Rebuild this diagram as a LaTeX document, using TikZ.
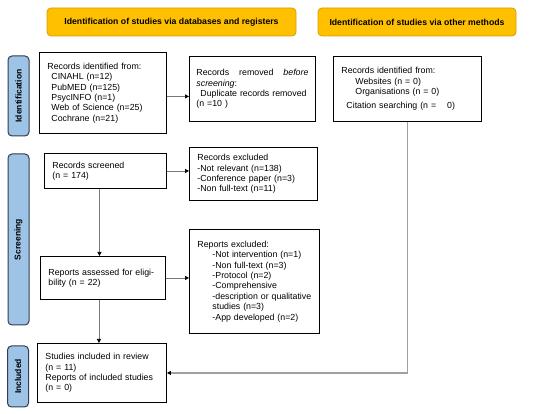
\documentclass[tikz,border=0pt]{standalone}
\usepackage{fontspec}
\setmainfont{Liberation Sans}
\usetikzlibrary{arrows.meta,positioning}
\definecolor{prgold}{RGB}{255,192,0}
\definecolor{prgoldline}{RGB}{214,160,0}
\definecolor{prblue}{RGB}{157,195,230}
\definecolor{prblueline}{RGB}{50,60,75}
\definecolor{prgray}{RGB}{120,120,120}
\newcommand{\ind}{\hspace*{15pt}}

\begin{document}
\begin{tikzpicture}[x=1pt,y=-1pt,
    box/.style={draw, line width=0.9pt, anchor=north west, inner xsep=8pt, inner ysep=2pt, align=left, font=\fontsize{8.8}{10.4}\selectfont},
    header/.style={draw=prgoldline, fill=prgold, rounded corners=4pt, line width=0.8pt, minimum height=28pt, font=\fontsize{8.7}{10}\selectfont\bfseries},
    phase/.style={draw=prblueline, fill=prblue, rounded corners=4pt, line width=1pt, rotate=90, minimum height=21pt, inner sep=0pt, font=\fontsize{8.5}{10}\selectfont\bfseries},
    conn/.style={draw=prgray, line width=0.7pt, -{Triangle[color=black, length=4pt, width=4pt]}}]
    \useasboundingbox (0,0) rectangle (550,414);

    % Headers
    \node[header, minimum width=249pt] (hdDb) at (171.5,22) {Identification of studies via databases and registers};
    \node[header, minimum width=198pt] (hdOther) at (417,22) {Identification of studies via other methods};

    % Phases
    \node[phase, minimum width=80pt] (phId) at (18.5,96) {Identification};
    \node[phase, minimum width=171pt] (phScr) at (18.5,239.5) {Screening};
    \node[phase, minimum width=61pt] (phInc) at (18,376.5) {Included};

    % Identification
    \node[box, text width=111pt, minimum height=81pt] (idDb) at (39,52) {Records identified from:\\
        \hspace*{4pt}CINAHL (n=12)\\
        \hspace*{4pt}PubMED (n=125)\\
        \hspace*{4pt}PsycINFO (n=1)\\
        \hspace*{4pt}Web of Science (n=25)\\
        \hspace*{4pt}Cochrane (n=21)};
    \node[box, inner xsep=7pt, text width=112pt, minimum height=65pt] (idRemoved) at (189,56) {Records\hfill removed\hfill \textit{before}\\
        \textit{screening}:\\
        \hspace*{4pt}\mbox{Duplicate records removed}\\
        (n =10 )};
    \node[box, text width=132pt, minimum height=65pt] (idOther) at (333,56) {Records identified from:\\
        \hspace*{14pt}Websites (n = 0)\\
        \hspace*{14pt}Organisations (n = 0)\\[4pt]
        \hspace*{5pt}Citation searching (n = \hspace{8pt}0)};

    % Screening
    \node[box, text width=106pt, minimum height=35pt] (screened) at (44,153) {Records screened\\ (n = 174)};
    \node[box, text width=112pt, minimum height=53pt] (excluded) at (189,147) {Records excluded\\
        -Not relevant (n=138)\\
        -Conference paper (n=3)\\
        -Non full-text (n=11)};
    \node[box, text width=109pt, minimum height=43pt] (assessed) at (40,256) {Reports assessed for eligi-\\ bility (n = 22)};
    \node[box, text width=114pt, minimum height=104pt] (repExcl) at (189,229) {Reports excluded:\\
        \ind -Not intervention (n=1)\\
        \ind -Non full-text (n=3)\\
        \ind -Protocol (n=2)\\
        \ind -Comprehensive\\
        \ind -description or qualitative\\
        \ind studies (n=3)\\
        \ind -App developed (n=2)};

    % Included
    \node[box, text width=113pt, minimum height=59pt] (included) at (37,343) {Studies included in review\\
        (n = 11)\\
        Reports of included studies\\
        (n = 0)};

    % Connectors
    \coordinate (idOut) at ([yshift=-3.5pt]idDb.east);
    \draw[conn] (idOut) -- (idOut -| idRemoved.west);
    \draw[conn] (screened.east) -- (screened.east -| excluded.west);
    \coordinate (scrOut) at ([xshift=-6pt]screened.south);
    \draw[conn] (scrOut) -- (scrOut |- assessed.north);
    \draw[conn] (assessed.east) -- (assessed.east -| repExcl.west);
    \coordinate (asOut) at ([xshift=-4pt]assessed.south);
    \draw[conn] (asOut) -- (asOut |- included.north);
    \draw[conn, draw=prgray!70, line width=1.2pt] (idOther.south) |- (included.east);
\end{tikzpicture}
\end{document}
